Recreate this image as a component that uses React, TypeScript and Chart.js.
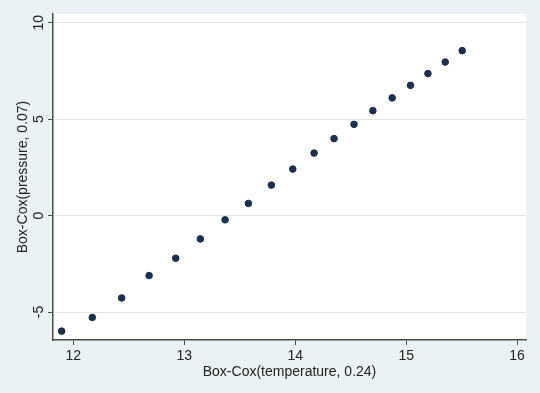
import React, { useEffect, useRef } from "react";
import { Chart, registerables } from "chart.js";

Chart.register(...registerables);

const temperature: number[] = [11.895, 12.171, 12.436, 12.683, 12.923, 13.145, 13.368, 13.578, 13.785, 13.978, 14.17, 14.35, 14.53, 14.70, 14.874, 15.039, 15.196, 15.352, 15.505];
const pressure: number[] = [-5.99, -5.28, -4.27, -3.11, -2.21, -1.21, -0.22, 0.63, 1.58, 2.41, 3.24, 3.99, 4.73, 5.44, 6.10, 6.75, 7.36, 7.96, 8.55];
const xTicks: number[] = [12, 13, 14, 15, 16];
const yTicks: number[] = [-5, 0, 5, 10];
const xTitle = "Box-Cox(temperature, 0.24)";
const yTitle = "Box-Cox(pressure, 0.07)";

const FONT = "'Liberation Sans', Arial, sans-serif";
const TEXT = "#222222";
const AXIS = "#4a4a4a";

export default function App() {
  const ref = useRef<HTMLCanvasElement | null>(null);
  useEffect(() => {
    if (!ref.current) return;
    const bgPlugin = {
      id: "bg",
      beforeDraw(chart: any) {
        const { ctx, chartArea } = chart;
        ctx.save();
        ctx.fillStyle = "#eaf2f3";
        ctx.fillRect(0, 0, chart.width, chart.height);
        ctx.fillStyle = "#ffffff";
        ctx.fillRect(chartArea.left, chartArea.top, chartArea.right - chartArea.left, chartArea.bottom - chartArea.top);
        ctx.restore();
      },
      afterDraw(chart: any) {
        const { ctx } = chart;
        const y = chart.scales.y;
        ctx.save();
        ctx.fillStyle = TEXT;
        ctx.font = `14px ${FONT}`;
        ctx.textAlign = "center";
        ctx.textBaseline = "middle";
        yTicks.forEach((v) => {
          const py = y.getPixelForValue(v);
          ctx.save();
          ctx.translate(39, py);
          ctx.rotate(-Math.PI / 2);
          ctx.fillText(String(v), 0, 0);
          ctx.restore();
        });
        ctx.restore();
      },
    };
    const chart = new Chart(ref.current, {
      type: "scatter",
      data: {
        datasets: [
          {
            data: temperature.map((t, i) => ({ x: t, y: pressure[i] })),
            backgroundColor: "#1c2f4c",
            borderColor: "#1c2f4c",
            pointRadius: 3.3,
            pointHoverRadius: 3.3,
          },
        ],
      },
      options: {
        responsive: false,
        animation: false,
        layout: { padding: { top: 14, right: 14, left: 0, bottom: 0 } },
        plugins: { legend: { display: false }, tooltip: { enabled: false } },
        scales: {
          x: {
            type: "linear",
            min: 11.817,
            max: 16.08,
            afterBuildTicks: (s: any) => { s.ticks = xTicks.map((v) => ({ value: v })); },
            afterFit: (s: any) => { s.height = 53; },
            grid: { drawOnChartArea: false, drawTicks: true, tickLength: 5, tickColor: AXIS },
            border: { display: true, color: AXIS, width: 1.5 },
            ticks: { color: TEXT, font: { family: FONT, size: 14 }, padding: 3, maxRotation: 0 },
            title: { display: true, text: xTitle, color: TEXT, font: { family: FONT, size: 14 }, padding: { top: 12, bottom: 12 } },
          },
          y: {
            type: "linear",
            min: -6.45,
            max: 10.45,
            afterBuildTicks: (s: any) => { s.ticks = yTicks.map((v) => ({ value: v })); },
            afterFit: (s: any) => { s.width = 53; },
            grid: { color: "#e4e4e4", lineWidth: 1, drawTicks: true, tickLength: 5, tickColor: AXIS },
            border: { display: true, color: AXIS, width: 1.5 },
            ticks: { display: false },
            title: { display: true, text: yTitle, color: TEXT, font: { family: FONT, size: 14 }, padding: { top: 15, bottom: 15 } },
          },
        },
      },
      plugins: [bgPlugin],
    });
    return () => chart.destroy();
  }, []);
  return (
    <div style={{ position: "absolute", left: 0, top: 0, width: 540, height: 393 }}>
      <canvas ref={ref} width={540} height={393} style={{ width: 540, height: 393, display: "block" }} />
    </div>
  );
}
